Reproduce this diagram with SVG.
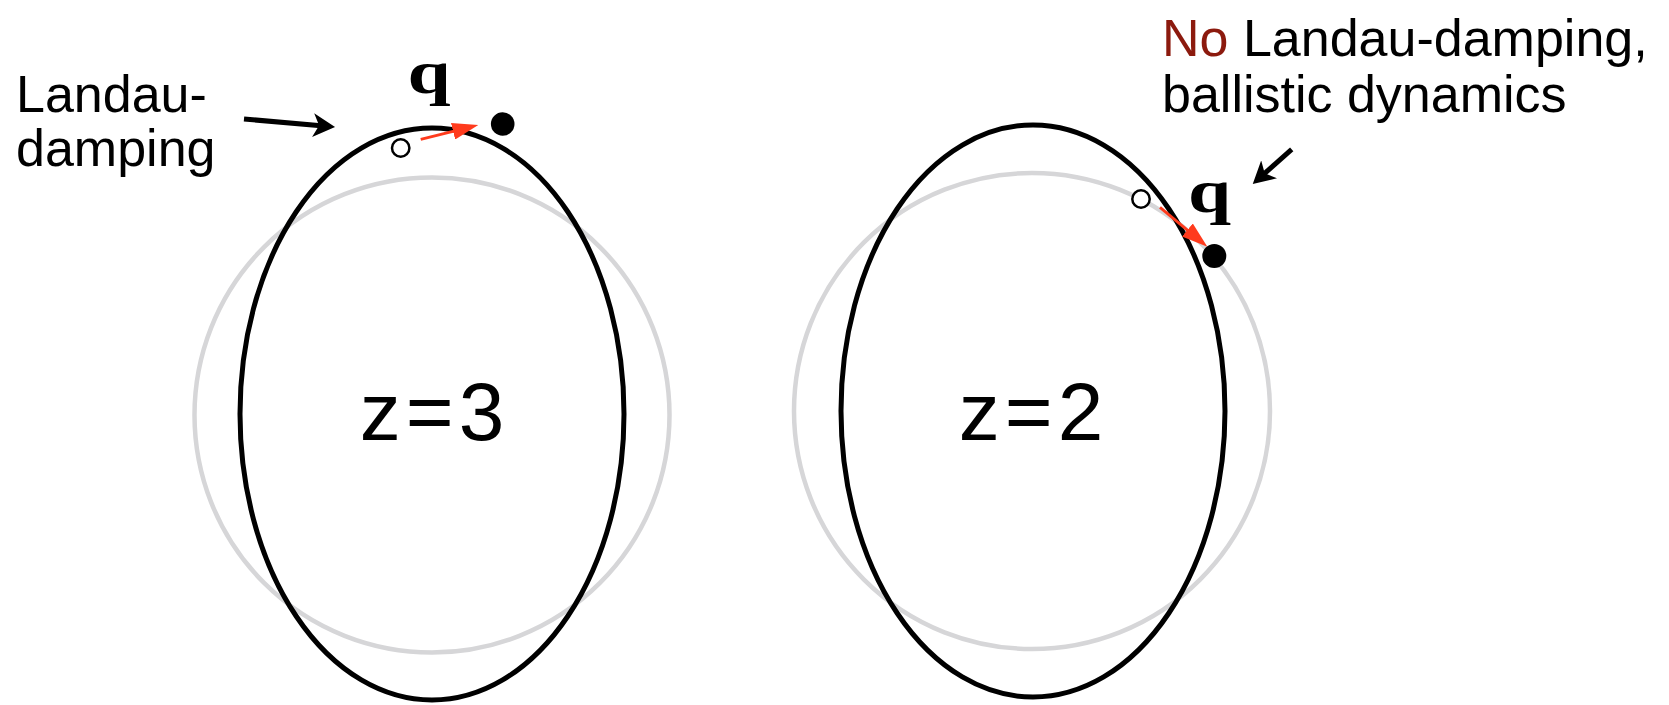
<svg xmlns="http://www.w3.org/2000/svg" width="1669" height="705" viewBox="0 0 1669 705">
<defs>
<marker id="blk" viewBox="0 0 22 24" refX="8" refY="12" markerWidth="22" markerHeight="24" markerUnits="userSpaceOnUse" orient="auto"><path d="M0,0 L22,12 L0,24 L6,12 Z" fill="#000"/></marker>
<marker id="red" viewBox="0 0 26 17" refX="2" refY="8.5" markerWidth="26" markerHeight="17" markerUnits="userSpaceOnUse" orient="auto"><path d="M0,0 L26,8.5 L0,17 Z" fill="#ff3b1d"/></marker>
</defs>
<style>
.gray{fill:none;stroke:#d6d6d8;stroke-width:4.5}
.fs{fill:none;stroke:#000;stroke-width:5}
.lbl{font-family:"Liberation Sans",Arial,sans-serif;font-size:52px;fill:#000}
.z{font-family:"Liberation Sans",Arial,sans-serif;font-size:82px;letter-spacing:5px;fill:#000;text-anchor:middle}
.q{font-family:"Liberation Serif","Times New Roman",serif;font-weight:bold;font-size:62px;fill:#000;text-anchor:middle}
.open{fill:#fff;stroke:#000;stroke-width:2.5}
.dot{fill:#000}
.ra{stroke:#ff3b1d;stroke-width:2.8;fill:none}
.ba{stroke:#000;stroke-width:5;fill:none}
</style>
<rect width="1669" height="705" fill="#fff"/>
<g id="left-panel">
<circle class="gray" cx="432" cy="415" r="237.5"/>
<ellipse class="fs" cx="432" cy="414" rx="192" ry="286"/>
<text class="z" x="434.5" y="440">z=3</text>
<circle class="open" cx="400.7" cy="148" r="8.7"/>
<circle class="dot" cx="502.7" cy="124" r="11.8"/>
<text class="q" transform="translate(429,93) scale(1.25,1)">q</text>
</g>
<g id="right-panel">
<circle class="gray" cx="1032" cy="411" r="238"/>
<ellipse class="fs" cx="1033" cy="411" rx="192" ry="286"/>
<text class="z" x="1033.5" y="440">z=2</text>
<circle class="open" cx="1141" cy="199" r="8.7"/>
<circle class="dot" cx="1214.3" cy="256" r="12"/>
<text class="q" transform="translate(1209.5,211.7) scale(1.25,1)">q</text>
</g>
<g id="label-left">
<text class="lbl" x="16" y="112">Landau-</text>
<text class="lbl" x="16" y="166">damping</text>
</g>
<g id="label-right">
<text class="lbl" x="1162" y="56"><tspan fill="#8c1a0e">No</tspan> Landau-damping,</text>
<text class="lbl" x="1162" y="112">ballistic dynamics</text>
</g>
<g id="connectors">
<line class="ba" x1="244" y1="119" x2="321.1" y2="125.8" marker-end="url(#blk)"/>
<line class="ba" x1="1291.7" y1="149.3" x2="1263.2" y2="174.7" marker-end="url(#blk)"/>
<line class="ra" x1="420.7" y1="139.3" x2="455" y2="130.8" marker-end="url(#red)"/>
<line class="ra" x1="1160" y1="207.3" x2="1188.9" y2="231.3" marker-end="url(#red)"/>
</g>
</svg>
